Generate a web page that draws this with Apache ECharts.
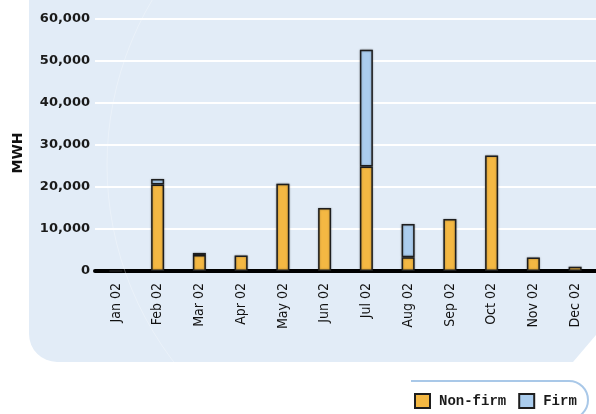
<!DOCTYPE html>
<html>
<head>
<meta charset="utf-8">
<script src="https://cdn.jsdelivr.net/npm/echarts@6/dist/echarts.min.js"></script>
<style>
  html, body { margin: 0; padding: 0; background: #ffffff; }
  #wrap { position: relative; width: 596px; height: 414px; overflow: hidden; }
  #panel {
    position: absolute; left: 29px; top: 0; width: 567px; height: 362px;
    background: #e2ecf7; border-bottom-left-radius: 28px;
    clip-path: polygon(0 0, 100% 0, 100% 335px, 544px 362px, 0 362px);
  }
  #chart { position: absolute; left: 0; top: 0; width: 596px; height: 414px; }
</style>
</head>
<body>
<div id="wrap">
  <div id="panel"></div>
  <div id="chart"></div>
</div>
<script>
var categories = ['Jan 02', 'Feb 02', 'Mar 02', 'Apr 02', 'May 02', 'Jun 02', 'Jul 02', 'Aug 02', 'Sep 02', 'Oct 02', 'Nov 02', 'Dec 02'];
var nonFirm = [0, 20600, 3800, 3700, 20800, 15000, 24900, 3300, 12400, 27500, 3200, 1000];
var firm = [0, 1300, 500, 0, 0, 0, 27800, 7900, 0, 0, 0, 0];
var yMin = 0, yMax = 60000, yStep = 10000;
var yTitle = 'MWH';
var seriesNames = ['Non-firm', 'Firm'];

var chart = echarts.init(document.getElementById('chart'), null, { renderer: 'canvas' });
var condensed = "'Liberation Sans Narrow', 'DejaVu Sans Condensed', 'Roboto Condensed', sans-serif";
var barStyle = function (color) {
  return {
    color: color, borderColor: '#1e1e1e', borderWidth: 1.5,
    shadowColor: 'rgba(0,0,0,0.35)', shadowBlur: 2
  };
};
function fmt(v) { return String(v).replace(/\B(?=(\d{3})+(?!\d))/g, ','); }

chart.setOption({
  animation: false,
  backgroundColor: 'transparent',
  grid: { left: 95, top: 19, width: 512, bottom: 143, containLabel: false },
  xAxis: {
    type: 'category', data: categories, offset: 2,
    axisTick: { show: false },
    axisLine: { lineStyle: { color: '#000', width: 4 } },
    axisLabel: { rotate: 90, margin: 10, fontSize: 14, color: '#111', fontFamily: condensed, interval: 0 }
  },
  yAxis: {
    type: 'value', min: yMin, max: yMax, interval: yStep,
    axisLine: { show: false }, axisTick: { show: false },
    splitLine: { lineStyle: { color: '#ffffff', width: 2 } },
    axisLabel: { margin: 5, fontSize: 13, fontWeight: 'bold', color: '#1a1a1a', fontFamily: 'DejaVu Sans', formatter: fmt }
  },
  legend: {
    left: 414, top: 393, padding: 0, itemWidth: 15, itemHeight: 14, itemGap: 12,
    icon: 'rect',
    textStyle: { fontFamily: "'Liberation Mono', 'DejaVu Sans Mono', monospace", fontSize: 14, fontWeight: 'bold', color: '#1a1a1a', padding: [0, 0, 0, 4] },
    data: seriesNames
  },
  series: [
    { name: seriesNames[0], type: 'bar', stack: 'total', barWidth: 13, data: nonFirm, itemStyle: barStyle('#f4b843') },
    { name: seriesNames[1], type: 'bar', stack: 'total', barWidth: 13, data: firm.map(function (v) { return v > 0 ? v : '-'; }), itemStyle: barStyle('#abcdee') }
  ],
  graphic: [
    { type: 'circle', silent: true, z: 1, shape: { cx: 431, cy: 165, r: 324 },
      style: { fill: 'none', stroke: 'rgba(255,255,255,0.3)', lineWidth: 1 } },
    { type: 'text', x: 18, y: 153, rotation: Math.PI / 2,
      style: { text: yTitle, font: 'bold 14px "DejaVu Sans"', fill: '#111', textAlign: 'center', textVerticalAlign: 'middle' } },
    { type: 'line', shape: { x1: 411, y1: 381, x2: 569, y2: 381 }, style: { stroke: '#a9c8e8', lineWidth: 2 } },
    { type: 'arc', shape: { cx: 569, cy: 400, r: 19, startAngle: -Math.PI / 2, endAngle: Math.PI / 2, clockwise: true },
      style: { stroke: '#a9c8e8', lineWidth: 2, fill: 'none' } }
  ]
});
</script>
</body>
</html>
